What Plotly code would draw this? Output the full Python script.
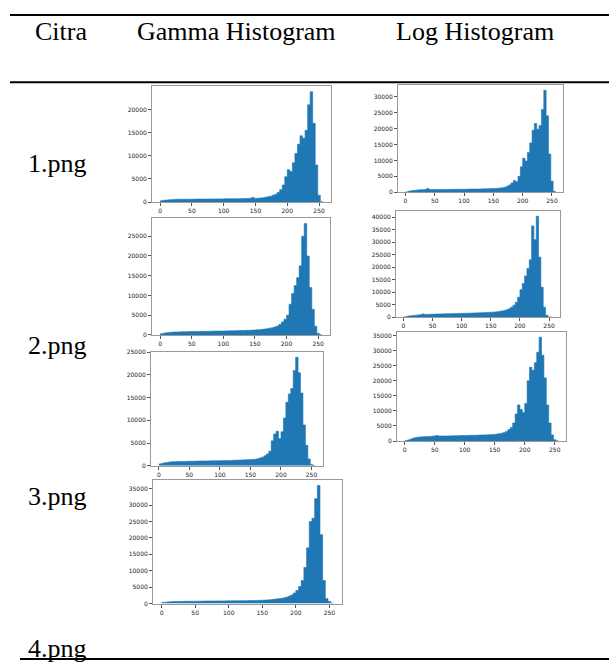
import plotly.graph_objects as go

W, H = 609, 665

# Histogram counts, grouped into 4-level bins (0-4, 4-8, ..., 252-256)
BIN = 4
bin_starts = list(range(0, 256, BIN))

gamma_1 = [300, 400, 450, 500, 550, 600, 620, 620, 630, 640, 640, 650, 650, 660, 660, 670,
           670, 680, 680, 690, 690, 700, 700, 700, 710, 720, 720, 730, 730, 740, 750, 760,
           770, 780, 800, 850, 1000, 820, 850, 900, 950, 1050, 1150, 1300, 1500, 1700, 2100, 2700,
           3700, 5500, 7000, 6600, 8500, 10500, 12500, 14300, 13800, 15500, 21000, 23800, 17000, 8000, 1500, 100]

log_1 = [100, 350, 450, 550, 650, 750, 800, 820, 850, 1200, 850, 860, 870, 880, 880, 890,
         900, 900, 910, 920, 930, 930, 940, 950, 960, 970, 980, 990, 1000, 1010, 1020, 1040,
         1060, 1080, 1100, 1120, 1150, 1180, 1200, 1250, 1350, 1450, 1600, 1900, 2300, 2900, 3700, 3300,
         5000, 8000, 10700, 9800, 12500, 15500, 19500, 21600, 19800, 21000, 26000, 32000, 24000, 12000, 3500, 300]

gamma_2 = [300, 450, 550, 620, 700, 730, 760, 780, 800, 820, 840, 860, 880, 890, 900, 910,
           920, 930, 940, 950, 960, 980, 990, 1000, 1010, 1020, 1030, 1040, 1060, 1080, 1100, 1120,
           1140, 1160, 1180, 1200, 1230, 1260, 1300, 1350, 1420, 1500, 1600, 1720, 1850, 2050, 2300, 2700,
           3300, 4000, 5000, 7800, 10500, 12500, 14500, 17500, 25000, 28200, 20000, 12000, 6500, 2200, 400, 50]

log_2 = [100, 300, 450, 600, 700, 800, 900, 1000, 1300, 1050, 1100, 1150, 1200, 1220, 1250, 1270,
         1300, 1320, 1350, 1380, 1400, 1420, 1450, 1480, 1500, 1520, 1550, 1580, 1600, 1630, 1660, 1700,
         1730, 1770, 1800, 1850, 1900, 1950, 2000, 2100, 2200, 2350, 2500, 2700, 3000, 3400, 4000, 4800,
         6000, 8000, 11000, 13500, 16500, 19500, 23000, 36500, 31000, 40400, 24000, 12000, 4000, 800, 100, 0]

gamma_3 = [400, 550, 650, 750, 820, 870, 900, 920, 940, 950, 960, 980, 1000, 1010, 1020, 1030,
           1040, 1050, 1060, 1070, 1080, 1090, 1100, 1110, 1120, 1130, 1140, 1150, 1170, 1190, 1210, 1230,
           1250, 1270, 1290, 1310, 1340, 1370, 1400, 1450, 1550, 1700, 1900, 2200, 2600, 3200, 5500, 7000,
           7600, 6000, 7500, 10500, 14000, 15800, 17000, 21000, 23900, 20500, 16000, 9000, 4500, 1500, 300, 50]

log_3 = [100, 300, 600, 900, 1100, 1250, 1350, 1400, 1450, 1480, 1500, 1550, 1700, 1800, 1650, 1650,
         1660, 1680, 1700, 1720, 1740, 1760, 1780, 1800, 1820, 1850, 1870, 1890, 1900, 1920, 1950, 1970,
         2000, 2020, 2050, 2100, 2150, 2200, 2300, 2400, 2600, 2800, 3200, 3800, 4500, 6000, 9000, 12000,
         10500, 9500, 12500, 20000, 24500, 23500, 26000, 29500, 34500, 28500, 21000, 12000, 6000, 2000, 400, 50]

gamma_4 = [300, 400, 500, 560, 600, 620, 640, 650, 660, 680, 690, 700, 710, 720, 730, 740,
           750, 760, 770, 780, 790, 800, 805, 810, 815, 820, 830, 840, 850, 860, 870, 880,
           900, 920, 940, 960, 980, 1000, 1050, 1100, 1150, 1250, 1350, 1450, 1550, 1700, 1900, 2200,
           2600, 3200, 4000, 5200, 7000, 11000, 17000, 25000, 26000, 32000, 36000, 21000, 7000, 1500, 600, 100]

x_ticks = [0, 50, 100, 150, 200, 250]

header_labels = ["Citra", "Gamma Histogram", "Log Histogram"]
row_labels = ["1.png", "2.png", "3.png", "4.png"]

# Panel boxes in page pixels: (left, right, top, bottom)
panels = [
    (gamma_1, (152, 331, 84, 201)),
    (log_1, (398, 563, 83, 191)),
    (gamma_2, (152, 330, 217, 335)),
    (log_2, (396, 560, 210, 317)),
    (gamma_3, (151, 323, 352, 467)),
    (log_3, (397, 566, 332, 442)),
    (gamma_4, (153, 342, 481, 606)),
]

BLUE = "#1f77b4"
SERIF = "Liberation Serif, Times New Roman, serif"

fig = go.Figure()

layout = dict(
    width=W, height=H,
    margin=dict(l=0, r=0, t=0, b=0),
    paper_bgcolor="white", plot_bgcolor="rgba(0,0,0,0)",
    showlegend=False,
    # page-level axis in pixel units for table text and rules
    xaxis=dict(domain=[0, 1], range=[0, W], visible=False, fixedrange=True),
    yaxis=dict(domain=[0, 1], range=[H, 0], visible=False, fixedrange=True),
)

for i, (counts, (l, r, t, b)) in enumerate(panels):
    n = i + 2
    xa, ya = f"x{n}", f"y{n}"
    # step outline of the histogram, filled down to zero (no seams between bins)
    edges = bin_starts + [bin_starts[-1] + BIN]
    steps = list(counts) + [counts[-1]]
    fig.add_trace(go.Scatter(
        x=edges, y=steps, mode="lines", line=dict(shape="hv", color=BLUE, width=0.6),
        fill="tozeroy", fillcolor=BLUE,
        xaxis=xa, yaxis=ya, hoverinfo="skip",
    ))
    ymax = max(counts) * 1.05
    common = dict(
        showline=True, mirror=True, linecolor="#9a9a9a", linewidth=1,
        ticks="outside", ticklen=3, tickwidth=1, tickcolor="#555",
        tickfont=dict(size=6, family="DejaVu Sans", color="#222"),
        showgrid=False, zeroline=False, fixedrange=True,
    )
    layout[f"xaxis{n}"] = dict(
        domain=[l / W, r / W], anchor=ya, range=[-12.8, 268.8],
        tickvals=x_ticks, **common,
    )
    layout[f"yaxis{n}"] = dict(
        domain=[1 - b / H, 1 - t / H], anchor=xa, range=[0, ymax],
        dtick=5000, tick0=0, tickformat="d", **common,
    )

fig.update_layout(**layout)

# Table rules
for y0, x0 in [(12, 10), (80, 10), (662, 20)]:
    fig.add_shape(type="line", xref="x", yref="y", x0=x0, x1=W, y0=y0, y1=y0,
                  line=dict(color="black", width=2))

# Header row
for text, cx in zip(header_labels, [61, 236, 475]):
    fig.add_annotation(x=cx, y=29, xref="x", yref="y", text=text, showarrow=False,
                       xanchor="center", yanchor="middle",
                       font=dict(family=SERIF, size=26, color="black"))

# Row labels
for text, cy in zip(row_labels, [162, 346, 498, 651]):
    fig.add_annotation(x=26, y=cy, xref="x", yref="y", text=text, showarrow=False,
                       xanchor="left", yanchor="middle",
                       font=dict(family=SERIF, size=26, color="black"))

fig.write_html("out.html")
